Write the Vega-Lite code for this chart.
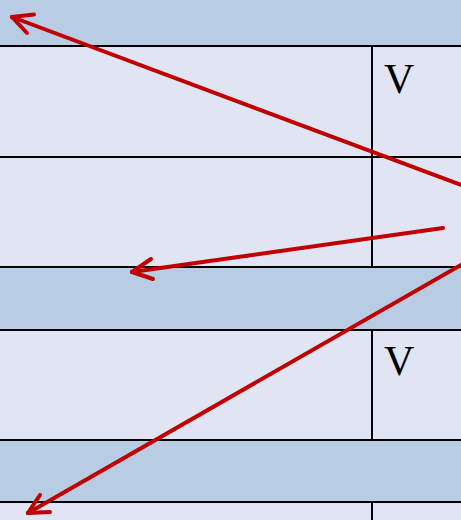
{
  "$schema": "https://vega.github.io/schema/vega-lite/v6.json",
  "width": 461,
  "height": 520,
  "padding": 0,
  "autosize": "none",
  "background": "#ffffff",
  "config": {"view": {"stroke": null}},
  "datasets": {
    "bands": [
      {"top": 0, "bottom": 46, "kind": "header", "left": 0, "right": 461},
      {"top": 46, "bottom": 267, "kind": "body", "left": 0, "right": 461},
      {"top": 267, "bottom": 330, "kind": "header", "left": 0, "right": 461},
      {"top": 330, "bottom": 440, "kind": "body", "left": 0, "right": 461},
      {"top": 440, "bottom": 502, "kind": "header", "left": 0, "right": 461},
      {"top": 502, "bottom": 520, "kind": "body", "left": 0, "right": 461}
    ],
    "hlines": [
      {"y": 46, "left": 0, "right": 461},
      {"y": 157, "left": 0, "right": 461},
      {"y": 267, "left": 0, "right": 461},
      {"y": 330, "left": 0, "right": 461},
      {"y": 440, "left": 0, "right": 461},
      {"y": 502, "left": 0, "right": 461}
    ],
    "vlines": [
      {"x": 372, "top": 46, "bottom": 267},
      {"x": 372, "top": 330, "bottom": 440},
      {"x": 372, "top": 502, "bottom": 520}
    ],
    "labels": [
      {"x": 384, "y": 93, "text": "V"},
      {"x": 384, "y": 375, "text": "V"}
    ],
    "arrows": [
      {"x1": 461, "y1": 185, "x2": 12, "y2": 17},
      {"x1": 34, "y1": 14.5, "x2": 12, "y2": 17},
      {"x1": 27, "y1": 33, "x2": 12, "y2": 17},
      {"x1": 443, "y1": 228, "x2": 132, "y2": 272},
      {"x1": 151, "y1": 259, "x2": 132, "y2": 272},
      {"x1": 153, "y1": 279, "x2": 132, "y2": 272},
      {"x1": 461, "y1": 265, "x2": 28, "y2": 513},
      {"x1": 50, "y1": 512, "x2": 28, "y2": 513},
      {"x1": 40, "y1": 495, "x2": 28, "y2": 513}
    ]
  },
  "layer": [
    {
      "data": {"name": "bands"},
      "mark": {"type": "rect"},
      "encoding": {
        "x": {"field": "left", "type": "quantitative", "scale": {"domain": [0, 461], "nice": false, "zero": false}, "axis": null},
        "x2": {"field": "right"},
        "y": {"field": "top", "type": "quantitative", "scale": {"domain": [0, 520], "nice": false, "zero": false, "reverse": true}, "axis": null},
        "y2": {"field": "bottom"},
        "color": {"field": "kind", "type": "nominal", "scale": {"domain": ["header", "body"], "range": ["#b8cce4", "#e1e4f2"]}, "legend": null}
      }
    },
    {
      "data": {"name": "hlines"},
      "mark": {"type": "rule", "color": "#000000", "strokeWidth": 2},
      "encoding": {
        "x": {"field": "left", "type": "quantitative"},
        "x2": {"field": "right"},
        "y": {"field": "y", "type": "quantitative"}
      }
    },
    {
      "data": {"name": "vlines"},
      "mark": {"type": "rule", "color": "#000000", "strokeWidth": 2},
      "encoding": {
        "x": {"field": "x", "type": "quantitative"},
        "y": {"field": "top", "type": "quantitative"},
        "y2": {"field": "bottom"}
      }
    },
    {
      "data": {"name": "labels"},
      "mark": {"type": "text", "font": "Liberation Serif", "fontSize": 42, "align": "left", "baseline": "alphabetic", "color": "#000000"},
      "encoding": {
        "x": {"field": "x", "type": "quantitative"},
        "y": {"field": "y", "type": "quantitative"},
        "text": {"field": "text"}
      }
    },
    {
      "data": {"name": "arrows"},
      "mark": {"type": "rule", "color": "#c00000", "strokeWidth": 4, "strokeCap": "round"},
      "encoding": {
        "x": {"field": "x1", "type": "quantitative"},
        "x2": {"field": "x2"},
        "y": {"field": "y1", "type": "quantitative"},
        "y2": {"field": "y2"}
      }
    }
  ]
}
